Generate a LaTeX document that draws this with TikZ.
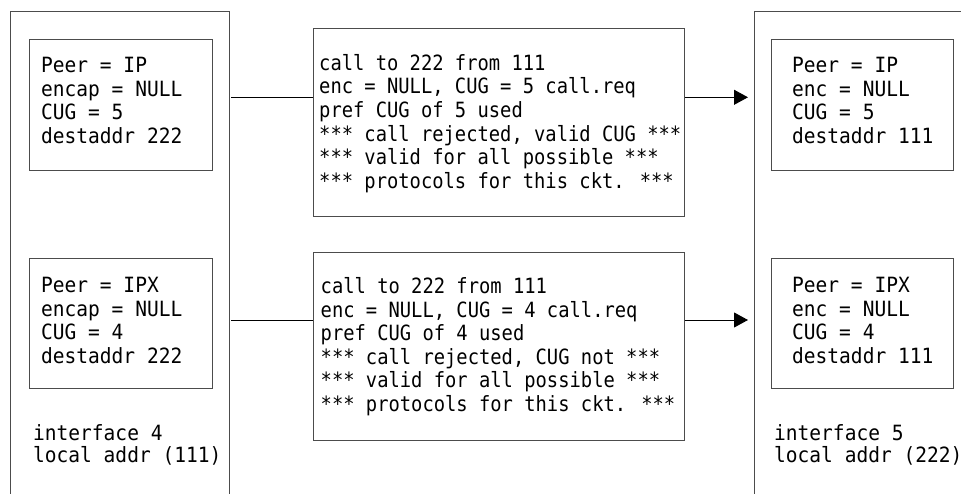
\documentclass[tikz,border=0pt]{standalone}
\usepackage{fontspec}
\newfontfamily\monoA[FakeStretch=0.93]{DejaVu Sans Mono}
\newfontfamily\monoB[FakeStretch=0.895]{DejaVu Sans Mono}
\usetikzlibrary{arrows.meta}
\begin{document}
\begin{tikzpicture}[x=1pt,y=-1pt,
  frame/.style={draw=black!70, line width=1pt},
  box/.style={draw=black!70, line width=1pt, anchor=north west, inner sep=0pt},
  txt/.style={inner sep=0pt, anchor=north west, align=left, font=\monoA\fontsize{21}{23.5}\selectfont},
  txtm/.style={inner sep=0pt, anchor=north west, align=left, font=\monoB\fontsize{21}{23.6}\selectfont},
  conn/.style={draw=black, line width=1pt},
  arr/.style={conn, -{Triangle[length=14pt,width=15pt]}}]
\useasboundingbox (0,0) rectangle (961,494);
% outer frames (open at bottom)
\draw[frame] (10,494) -- (10,12) -- (229,12) -- (229,494);
\draw[frame] (754,494) -- (754,12) -- (962,12);
% left inner boxes
\node[box, minimum width=183pt, minimum height=131pt] (l1) at (29,39) {};
\node[box, minimum width=183pt, minimum height=130pt] (l2) at (29,258) {};
\node[txt] (l1t) at (41,57.4) {Peer = IP\\encap = NULL\\CUG = 5\\destaddr 222};
\node[txt] (l2t) at (41,277) {Peer = IPX\\encap = NULL\\CUG = 4\\destaddr 222};
\node[txt, font=\monoA\fontsize{21}{22}\selectfont] (li) at (33,424) {interface 4\\local addr (111)};
% middle boxes
\node[box, minimum width=371pt, minimum height=188pt] (m1) at (313,28.3) {};
\node[box, minimum width=371pt, minimum height=188pt] (m2) at (313,251.7) {};
\node[txtm] (m1t) at (319,54) {call to 222 from 111\\enc = NULL, CUG = 5 call.req\\pref CUG of 5 used\\*** call rejected, valid CUG ***\\*** valid for all possible ***\\*** protocols for this ckt. ***};
\node[txtm] (m2t) at (320.5,277.3) {call to 222 from 111\\enc = NULL, CUG = 4 call.req\\pref CUG of 4 used\\*** call rejected, CUG not ***\\*** valid for all possible ***\\*** protocols for this ckt. ***};
% right inner boxes
\node[box, minimum width=182pt, minimum height=131pt] (r1) at (771,39) {};
\node[box, minimum width=182pt, minimum height=130pt] (r2) at (771,258) {};
\node[txt] (r1t) at (792,57.4) {Peer = IP\\enc = NULL\\CUG = 5\\destaddr 111};
\node[txt] (r2t) at (792,277) {Peer = IPX\\enc = NULL\\CUG = 4\\destaddr 111};
\node[txt, font=\monoA\fontsize{21}{22}\selectfont] (ri) at (774,424) {interface 5\\local addr (222)};
% connectors
\coordinate (a1) at (231,97.3);
\coordinate (a2) at (231,320);
\coordinate (b1) at (748,97.3);
\coordinate (b2) at (748,320);
\draw[conn] (a1) -- (a1 -| m1.west);
\draw[conn] (a2) -- (a2 -| m2.west);
\draw[arr] (b1 -| m1.east) -- (b1);
\draw[arr] (b2 -| m2.east) -- (b2);
\end{tikzpicture}
\end{document}
